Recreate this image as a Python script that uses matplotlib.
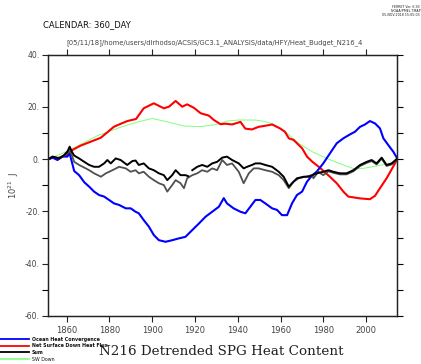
import numpy as np
from matplotlib import pyplot as plt

# --- data (years, 10^21 J) ---
blue_yr = [1851.4, 1853.4, 1855.7, 1858.0, 1860.3, 1861.4, 1862.4, 1863.5, 1865.8, 1868.2,
           1870.5, 1872.8, 1875.1, 1877.5, 1879.8, 1882.1, 1884.5, 1887.6, 1889.9, 1892.2,
           1893.7, 1896.0, 1898.4, 1900.7, 1903.1, 1906.2, 1909.3, 1912.4, 1915.5, 1918.7,
           1921.8, 1924.9, 1928.0, 1931.1, 1933.4, 1934.9, 1938.0, 1941.2, 1943.5, 1945.8,
           1948.2, 1950.5, 1952.8, 1956.0, 1958.3, 1960.6, 1963.0, 1965.3, 1967.6, 1970.0,
           1972.3, 1974.7, 1976.8, 1979.9, 1983.0, 1986.2, 1989.3, 1992.4, 1994.7, 1997.1,
           1999.4, 2001.7, 2004.1, 2006.4, 2008.0, 2010.3, 2012.6, 2014.5]
blue_val = [0.0, 0.6, -0.3, 1.0, 1.0, 2.2, -1.0, -4.5, -6.1, -8.8,
            -10.5, -12.4, -13.7, -14.3, -15.6, -16.9, -17.5, -18.8, -18.8, -20.1,
            -20.7, -23.3, -25.8, -29.0, -31.0, -31.6, -31.0, -30.3, -29.7, -27.1,
            -24.6, -22.0, -20.1, -18.2, -14.9, -16.9, -18.8, -20.1, -20.7, -18.2,
            -15.6, -15.6, -16.9, -18.8, -19.4, -21.4, -21.4, -16.9, -13.7, -12.4,
            -8.6, -6.2, -4.8, -1.6, 2.2, 6.1, 8.0, 9.5, 10.5, 12.4,
            13.3, 14.6, 13.7, 11.8, 8.0, 5.4, 2.9, 0.3]

red_yr = [1851.4, 1853.4, 1856.0, 1858.0, 1860.2, 1862.6, 1866.5, 1871.2, 1875.9, 1879.0,
          1882.0, 1884.5, 1888.3, 1892.4, 1896.0, 1900.7, 1905.4, 1907.8, 1910.9, 1914.0,
          1916.3, 1919.4, 1922.6, 1926.4, 1928.8, 1931.9, 1934.0, 1937.3, 1941.2, 1943.5,
          1946.6, 1949.7, 1952.8, 1956.0, 1959.9, 1962.0, 1963.8, 1966.0, 1970.0, 1972.3,
          1974.7, 1978.4, 1983.0, 1986.2, 1989.3, 1991.6, 1997.1, 2001.7, 2004.1, 2006.4,
          2009.5, 2012.6, 2014.5]
red_val = [0.0, 0.6, 0.5, 1.0, 1.6, 3.5, 5.2, 6.7, 8.2, 10.3,
           12.4, 13.3, 14.6, 15.4, 19.5, 21.4, 19.5, 20.1, 22.3, 20.1,
           21.0, 19.7, 17.6, 16.7, 15.0, 13.4, 13.6, 13.3, 14.3, 11.7,
           11.4, 12.4, 12.8, 13.3, 11.7, 10.5, 8.0, 7.4, 4.2, 1.0,
           -0.9, -3.3, -6.7, -9.2, -12.4, -14.3, -15.0, -15.3, -14.0, -11.1,
           -7.3, -2.8, 0.0]

sum_yr = [1851.4, 1853.4, 1856.5, 1858.8, 1860.3, 1861.4, 1862.4, 1863.5, 1865.8, 1868.2,
          1870.5, 1872.8, 1875.1, 1877.5, 1879.0, 1880.6, 1882.9, 1885.2, 1888.3, 1890.7,
          1892.2, 1893.7, 1896.0, 1898.4, 1900.7, 1903.1, 1905.4, 1907.0, 1909.3, 1910.9,
          1913.2, 1915.5, 1916.8, 1917.6, 1918.7, 1921.0, 1923.3, 1925.7, 1928.0, 1930.3,
          1932.7, 1934.9, 1937.3, 1940.4, 1942.7, 1944.3, 1946.6, 1948.2, 1950.5, 1952.8,
          1956.0, 1959.1, 1961.4, 1963.8, 1965.3, 1967.6, 1970.8, 1973.1, 1976.8, 1979.9,
          1982.3, 1984.6, 1987.7, 1990.8, 1994.0, 1997.1, 2000.2, 2002.5, 2004.8, 2007.2,
          2009.5, 2011.9, 2014.5]
sum_val = [0.0, 1.0, 0.3, 1.6, 2.9, 4.8, 2.9, 1.4, 0.3, -1.0,
           -2.2, -2.9, -2.9, -1.6, -0.3, -1.6, 0.3, -0.3, -2.2, -0.7,
           -0.5, -2.2, -1.6, -3.5, -4.2, -5.4, -6.1, -8.0, -6.1, -4.2,
           -6.1, -6.1, -6.5, np.nan, -4.2, -2.9, -2.2, -2.9, -1.6, -1.0,
           0.6, 1.0, -0.3, -1.6, -3.5, -2.9, -2.2, -1.6, -1.6, -2.2,
           -2.9, -4.8, -6.7, -10.5, -9.2, -7.3, -6.7, -6.7, -5.4, -4.8,
           -4.2, -4.8, -5.4, -5.4, -4.2, -2.2, -1.0, -0.3, -1.6, 0.6,
           -2.2, -1.6, 0.3]

grey_yr = [1851.4, 1853.4, 1856.5, 1858.8, 1860.3, 1861.4, 1862.4, 1863.5, 1865.8, 1868.2,
           1870.5, 1872.8, 1876.0, 1878.3, 1881.4, 1884.5, 1887.6, 1889.9, 1892.2, 1893.7,
           1896.0, 1898.4, 1900.7, 1903.1, 1905.4, 1907.0, 1909.3, 1910.9, 1913.2, 1914.8,
           1916.3, 1918.7, 1921.0, 1923.3, 1925.7, 1928.0, 1930.3, 1932.7, 1934.9, 1937.3,
           1940.4, 1942.7, 1945.1, 1947.4, 1949.7, 1952.8, 1956.0, 1959.1, 1961.4, 1963.8,
           1966.0, 1968.4, 1971.5, 1974.7, 1975.3, 1977.6, 1979.9, 1982.3, 1984.6, 1987.7,
           1990.8, 1994.0, 1997.1, 2000.2, 2002.5, 2004.8, 2007.2, 2009.5, 2011.9, 2014.5]
grey_val = [0.0, 1.0, 0.3, 1.3, 2.4, 3.5, 1.5, -1.0, -2.2, -3.2,
            -4.2, -5.4, -6.7, -5.4, -4.2, -2.9, -3.5, -4.8, -4.2, -5.4,
            -4.8, -6.7, -8.0, -9.2, -9.9, -12.4, -9.9, -8.0, -9.2, -11.1,
            -7.3, -6.1, -5.4, -4.2, -4.8, -3.5, -4.2, -0.3, -2.2, -1.6,
            -4.8, -9.2, -5.4, -3.5, -3.5, -4.2, -4.8, -6.1, -8.0, -11.1,
            -8.6, -7.3, -6.7, -6.1, -7.3, -4.8, -6.1, -4.6, -5.2, -5.8,
            -5.8, -4.6, -2.6, -1.4, -0.7, -2.0, 0.2, -2.6, -2.0, 0.0]

sw_yr = [1851.4, 1860.0, 1874.4, 1885.0, 1892.4, 1900.0, 1907.0, 1914.8, 1922.6, 1930.3,
         1935.0, 1940.4, 1948.2, 1952.0, 1956.0, 1962.2, 1968.4, 1974.7, 1981.5, 1989.3,
         1994.0, 1998.6, 2004.8, 2011.1, 2014.5]
sw_val = [0.0, 3.0, 9.0, 12.2, 14.1, 15.6, 14.3, 12.7, 12.5, 13.3,
          14.6, 15.0, 15.0, 14.5, 13.7, 10.5, 6.1, 2.9, 0.3, -2.2,
          -3.6, -3.5, -2.6, -1.6, 0.0]

legend_names = ['Ocean Heat Convergence', 'Net Surface Down Heat Flux', 'Sum', 'SW Down']
legend_cols = ['#0000ff', '#ff0000', '#000000', '#88ff88']

fig = plt.figure(figsize=(4.21, 3.64), dpi=100)
ax = fig.add_axes([0.1147, 0.1319, 0.829, 0.7178])

ax.plot(sw_yr, sw_val, color='#7fff7f', lw=0.7)
ax.plot(red_yr, red_val, color='#ff0000', lw=1.5)
ax.plot(blue_yr, blue_val, color='#0000ff', lw=1.5)
ax.plot(grey_yr, grey_val, color='#505050', lw=1.3)
ax.plot(sum_yr, sum_val, color='#000000', lw=1.4)

ax.set_xlim(1851.4, 2014.5)
ax.set_ylim(-60, 40)
ax.set_xticks(np.arange(1860, 2001, 20))
ax.set_yticks(np.arange(-60, 41, 20))
ax.set_yticks(np.arange(-50, 40, 20), minor=True)
ax.set_yticklabels(['%d.' % v for v in range(-60, 41, 20)])
ax.tick_params(axis='both', direction='out', length=4, width=0.8, colors='#222222',
               labelsize=5.5, labelcolor='#444444', pad=2)
ax.tick_params(axis='x', top=True, labelsize=6, pad=3)
ax.tick_params(axis='y', which='minor', direction='out', length=4, width=0.8, left=True)

# right-side ticks every 10, no labels
axr = ax.twinx()
axr.set_ylim(-60, 40)
axr.set_yticks(np.arange(-60, 41, 10))
axr.tick_params(axis='y', direction='out', length=4, width=0.8, labelright=False)
for a in (ax, axr):
    for s in a.spines.values():
        s.set_linewidth(0.9)
        s.set_color('#222222')

ax.set_ylabel('10$^{21}$  J', fontsize=6, color='#444444', labelpad=3)

fig.text(0.102, 0.931, 'CALENDAR: 360_DAY', fontsize=6, va='center', color='#111111')
fig.text(0.158, 0.884, '[05/11/18]/home/users/dlrhodso/ACSIS/GC3.1_ANALYSIS/data/HFY/Heat_Budget_N216_4',
         fontsize=4.85, va='center', color='#444444')
fig.text(0.998, 0.985, 'FERRET Ver. 6.93\nNOAA/PMEL TMAP\n05-NOV-2018 15:05:03',
         fontsize=2.3, ha='right', va='top', linespacing=1.0, color='#222222')

fig.text(0.525, 0.034, 'N216 Detrended SPG Heat Content', fontsize=9.7,
         family='DejaVu Serif', ha='center', va='center', color='#222222')

# legend drawn below the axes, bottom-left
for i, (name, col) in enumerate(zip(legend_names, legend_cols)):
    yy = 1 - (339 + i * 6.7) / 364
    fig.add_artist(plt.Line2D([0.0, 0.068], [yy, yy], color=col, lw=1.3,
                              transform=fig.transFigure))
    fig.text(0.076, yy, name, fontsize=3.4, va='center', color='#111111',
             weight='bold' if i < 3 else 'normal')

plt.savefig('out.png', dpi=100)
